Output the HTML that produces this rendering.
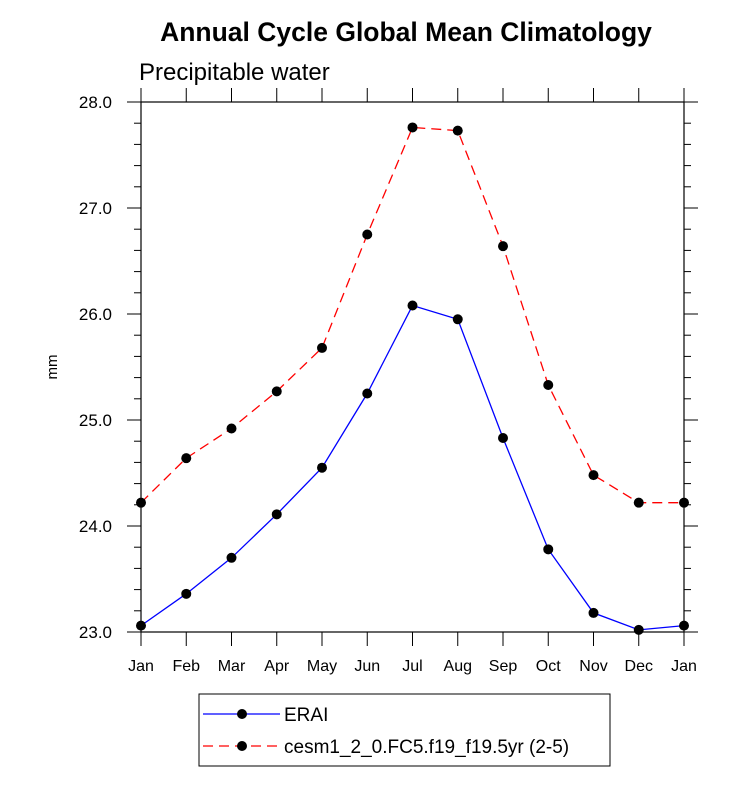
<!DOCTYPE html>
<html><head><meta charset="utf-8"><style>
body{margin:0;background:#fff}
svg text{font-family:"Liberation Sans",sans-serif;fill:#000}
</style></head><body>
<svg id="chart" width="733" height="786">
<text x="406" y="41" font-size="26.5" font-weight="bold" text-anchor="middle">Annual Cycle Global Mean Climatology</text>
<text x="139" y="80" font-size="24">Precipitable water</text>
<text x="57" y="367" font-size="15" text-anchor="middle" transform="rotate(-90 57 367)">mm</text>
<rect x="141" y="102" width="543" height="530" fill="none" stroke="#000" stroke-width="1.2"/>
<g id="axes"></g>
<g id="series"></g>
<g>
<rect x="199" y="694" width="411" height="72" fill="none" stroke="#000" stroke-width="1"/>
<line x1="203" y1="714" x2="280" y2="714" stroke="#0000ff" stroke-width="1.3"/>
<circle cx="242" cy="714" r="5" fill="#000"/>
<text x="284" y="721" font-size="19">ERAI</text>
<line x1="203" y1="746" x2="280" y2="746" stroke="#ff0000" stroke-width="1.3" stroke-dasharray="10,6"/>
<circle cx="242" cy="746" r="5" fill="#000"/>
<text x="284" y="753" font-size="19">cesm1_2_0.FC5.f19_f19.5yr (2-5)</text>
</g>
</svg>
<script>
const months=["Jan","Feb","Mar","Apr","May","Jun","Jul","Aug","Sep","Oct","Nov","Dec","Jan"];
const erai=[23.06,23.36,23.70,24.11,24.55,25.25,26.08,25.95,24.83,23.78,23.18,23.02,23.06];
const cesm=[24.22,24.64,24.92,25.27,25.68,26.75,27.76,27.73,26.64,25.33,24.48,24.22,24.22];
const yTicks=["23.0","24.0","25.0","26.0","27.0","28.0"];
const NS="http://www.w3.org/2000/svg";
const x0=141,x1=684,y0=632,y1=102,ymin=23,ymax=28;
const xs=i=>x0+(x1-x0)*i/12;
const ys=v=>y0-(v-ymin)/(ymax-ymin)*(y0-y1);
function mk(t,a,p){const e=document.createElementNS(NS,t);for(const k in a)e.setAttribute(k,a[k]);p.appendChild(e);return e;}
const ax=document.getElementById('axes');
months.forEach((m,i)=>{
 const x=xs(i);
 mk('line',{x1:x,y1:y0,x2:x,y2:y0+14,stroke:'#000'},ax);
 mk('line',{x1:x,y1:y1,x2:x,y2:y1-14,stroke:'#000'},ax);
 const t=mk('text',{x:x,y:y0+39,'font-size':16,'text-anchor':'middle'},ax);
 
 
 t.textContent=m;
});
for(let v=ymin;v<=ymax+1e-6;v+=0.2){
 const y=ys(v),maj=Math.abs(v-Math.round(v))<1e-6,l=maj?14:7;
 mk('line',{x1:x0-l,y1:y,x2:x0,y2:y,stroke:'#000'},ax);
 mk('line',{x1:x1,y1:y,x2:x1+l,y2:y,stroke:'#000'},ax);
}
yTicks.forEach(s=>{
 const t=mk('text',{x:x0-29,y:ys(parseFloat(s))+6,'font-size':17,'text-anchor':'end'},ax);
 
 
 t.textContent=s;
});
const sg=document.getElementById('series');
function draw(vals,color,dash,name){
 const p=mk('polyline',{points:vals.map((v,i)=>xs(i)+','+ys(v)).join(' '),fill:'none',stroke:color,'stroke-width':1.3,'stroke-dasharray':dash},sg);
 
 
 vals.forEach((v,i)=>{
  const c=mk('circle',{cx:xs(i),cy:ys(v),r:5,fill:'#000'},sg);
  
  
 });
}
draw(erai,'#0000ff','none','erai');
draw(cesm,'#ff0000','10,6','cesm');
</script>
</body></html>
